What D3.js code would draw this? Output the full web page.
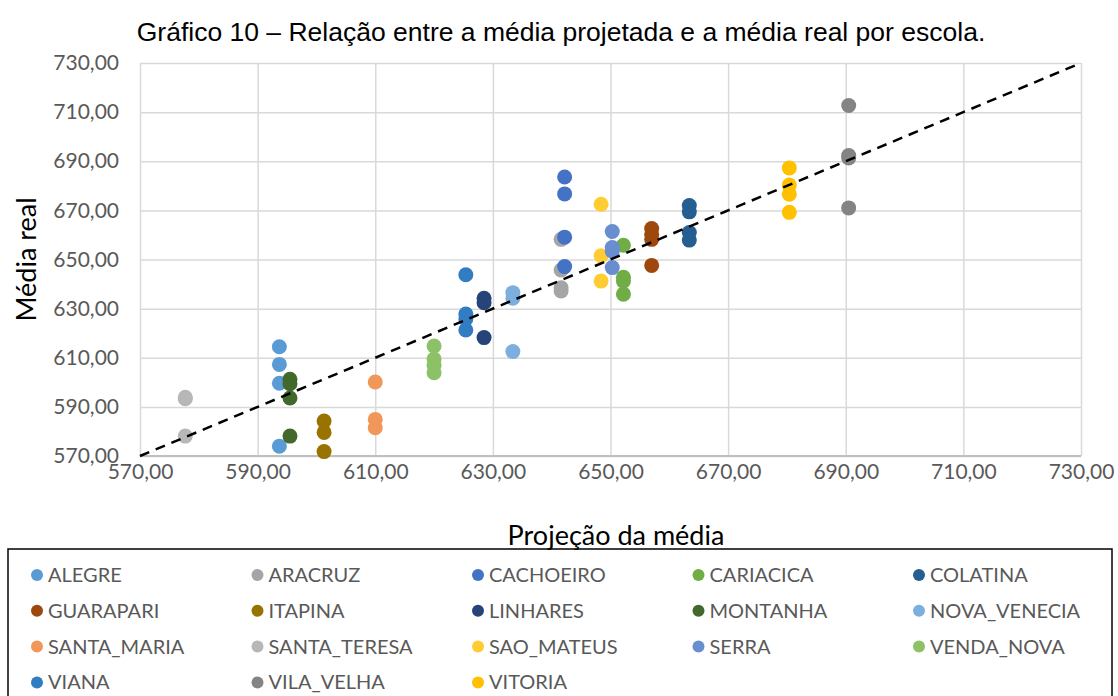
<!DOCTYPE html>
<meta charset="utf-8">
<style>
body { margin: 0; background: #fff; }
svg { display: block; }
.grid line { stroke: #d9d9d9; stroke-width: 1.5px; }
.tick text { font-family: Lato, sans-serif; font-size: 21px; fill: #595959; }
</style>
<div id="chart"></div>
<script src="https://d3js.org/d3.v7.min.js"></script>
<script>

var schools = ["ALEGRE", "ARACRUZ", "CACHOEIRO", "CARIACICA", "COLATINA",
  "GUARAPARI", "ITAPINA", "LINHARES", "MONTANHA", "NOVA_VENECIA",
  "SANTA_MARIA", "SANTA_TERESA", "SAO_MATEUS", "SERRA", "VENDA_NOVA",
  "VIANA", "VILA_VELHA", "VITORIA"];

var colors = ["#5B9BD5", "#A5A5A5", "#4472C4", "#70AD47", "#255E91",
  "#9E480E", "#997300", "#264478", "#43682B", "#7CAFDD",
  "#F1975A", "#B7B7B7", "#FFCD33", "#698ED0", "#8CC168",
  "#327DC2", "#848484", "#FFC000"];

// projeção da média (eixo x) de cada escola
var projecao = [593.7, 641.6, 642.2, 652.2, 663.4,
  657.0, 601.3, 628.5, 595.5, 633.4,
  610.0, 577.7, 648.4, 650.3, 620.0,
  625.4, 690.5, 680.4];

// média real (eixo y) de cada escola
var mediaReal = [
  [614.5, 607.3, 599.6, 574.0],
  [658.2, 645.7, 638.5, 637.2],
  [683.6, 676.7, 659.1, 647.1],
  [655.8, 642.8, 641.2, 635.9],
  [672.0, 669.4, 661.0, 657.9],
  [662.6, 660.3, 658.2, 647.6],
  [584.2, 579.6, 571.8],
  [634.2, 632.4, 618.2],
  [601.2, 599.4, 593.6, 578.1],
  [636.5, 634.2, 612.5],
  [600.1, 584.9, 581.5],
  [593.9, 593.3, 578.1],
  [672.5, 651.5, 641.2],
  [661.4, 654.9, 653.4, 646.7],
  [614.8, 609.5, 606.8, 603.9],
  [643.8, 627.8, 625.8, 621.3],
  [712.7, 692.3, 691.3, 671.0],
  [687.3, 680.3, 676.6, 669.2]
];

var ticks = [570, 590, 610, 630, 650, 670, 690, 710, 730];
var refLine = [570, 730];

var width = 1118, height = 696;
var mLeft = 140, mRight = 1081, mTop = 63, mBottom = 456;

var svg = d3.select("#chart").append("svg")
    .attr("width", width)
    .attr("height", height);

var x = d3.scaleLinear().domain([570, 730]).range([mLeft, mRight]);
var y = d3.scaleLinear().domain([570, 730]).range([mBottom, mTop]);
var fmt = function(d) { return d3.format(".2f")(d).replace(".", ","); };

// grade
svg.append("g")
    .attr("class", "grid")
    .attr("transform", "translate(0," + mBottom + ")")
    .call(d3.axisBottom(x).tickValues(ticks).tickSize(-(mBottom - mTop)).tickFormat(""))
    .call(function(g) { g.select(".domain").remove(); });

svg.append("g")
    .attr("class", "grid")
    .attr("transform", "translate(" + mLeft + ",0)")
    .call(d3.axisLeft(y).tickValues(ticks).tickSize(-(mRight - mLeft)).tickFormat(""))
    .call(function(g) { g.select(".domain").remove(); });

svg.append("line")
    .attr("x1", mLeft).attr("x2", mRight)
    .attr("y1", mBottom).attr("y2", mBottom)
    .attr("stroke", "#bfbfbf").attr("stroke-width", 2);

// rótulos dos eixos
svg.append("g")
    .attr("transform", "translate(0," + mBottom + ")")
    .call(d3.axisBottom(x).tickValues(ticks).tickSize(0).tickPadding(8).tickFormat(fmt))
    .call(function(g) { g.select(".domain").remove(); });

svg.append("g")
    .attr("transform", "translate(" + mLeft + ",0)")
    .call(d3.axisLeft(y).tickValues(ticks).tickSize(0).tickPadding(21).tickFormat(fmt))
    .call(function(g) { g.select(".domain").remove(); });

// pontos
schools.forEach(function(s, i) {
  svg.append("g")
    .selectAll("circle")
    .data(mediaReal[i])
    .enter().append("circle")
      .attr("cx", x(projecao[i]))
      .attr("cy", function(d) { return y(d); })
      .attr("r", 7.5)
      .attr("fill", colors[i]);
});

// linha de referência
svg.append("line")
    .attr("x1", x(refLine[0])).attr("y1", y(refLine[0]))
    .attr("x2", x(refLine[1])).attr("y2", y(refLine[1]))
    .attr("stroke", "#000")
    .attr("stroke-width", 2.5)
    .attr("stroke-dasharray", "10,7");

// títulos
svg.append("text")
    .attr("x", 561).attr("y", 41)
    .attr("text-anchor", "middle")
    .style("font-family", "'Liberation Sans', Arial, sans-serif")
    .style("font-size", "26.5px")
    .style("fill", "#000")
    .text("Gráfico 10 – Relação entre a média projetada e a média real por escola.");

svg.append("text")
    .attr("transform", "translate(36," + ((mTop + mBottom) / 2) + ") rotate(-90)")
    .attr("text-anchor", "middle")
    .style("font-family", "Lato, sans-serif")
    .style("font-size", "27px")
    .style("fill", "#000")
    .text("Média real");

svg.append("text")
    .attr("x", 616).attr("y", 545)
    .attr("text-anchor", "middle")
    .style("font-family", "Lato, sans-serif")
    .style("font-size", "27px")
    .style("fill", "#000")
    .text("Projeção da média");

// legenda
svg.append("rect")
    .attr("x", 8).attr("y", 549)
    .attr("width", 1104).attr("height", 160)
    .attr("fill", "none")
    .attr("stroke", "#000")
    .attr("stroke-width", 1.5);

var legend = svg.append("g")
  .selectAll("g")
  .data(schools)
  .enter().append("g")
    .attr("transform", function(d, i) {
      return "translate(" + (37 + (i % 5) * 220.5) + "," + (575 + Math.floor(i / 5) * 35.8) + ")";
    });

legend.append("circle")
    .attr("r", 6)
    .attr("fill", function(d, i) { return colors[i]; });

legend.append("text")
    .attr("x", 11)
    .attr("dy", "0.35em")
    .style("font-family", "Lato, sans-serif")
    .style("font-size", "20px")
    .style("fill", "#595959")
    .text(function(d) { return d; });

</script>
